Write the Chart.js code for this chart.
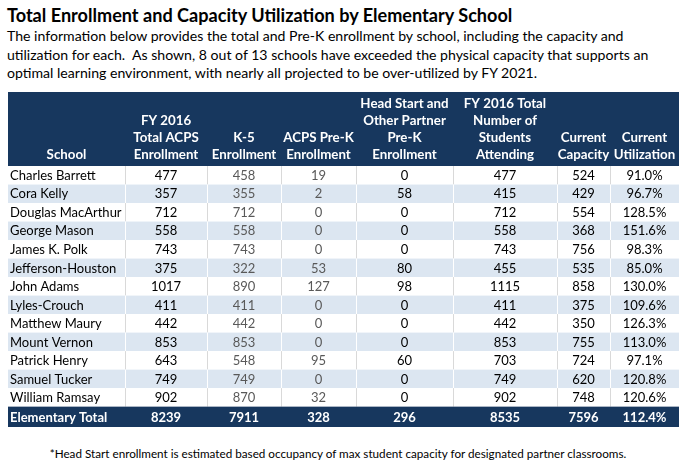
<!DOCTYPE html>
<html>
<head>
<meta charset="utf-8">
<script src="https://cdn.jsdelivr.net/npm/chart.js@4.4.1/dist/chart.umd.min.js"></script>
<style>
  html, body { margin: 0; padding: 0; background: #fff; }
  body { width: 688px; height: 464px; position: relative; overflow: hidden; font-family: Lato, "Open Sans", sans-serif; color: #000; }
  #title { position: absolute; left: 7px; top: 4px; font-size: 18.1px; font-weight: bold; line-height: 22px; white-space: nowrap; }
  #intro { position: absolute; left: 7px; top: 27px; font-size: 14.1px; line-height: 18.5px; white-space: nowrap; }
  #table { position: absolute; left: 8px; top: 92px; width: 671px; height: 335px; }
  #note { position: absolute; left: 0; width: 676px; top: 445px; text-align: center; font-size: 11.7px; line-height: 16px; white-space: nowrap; }
</style>
</head>
<body>
<div id="title">Total Enrollment and Capacity Utilization by Elementary School</div>
<div id="intro">The information below provides the total and Pre-K enrollment by school, including the capacity and<br>utilization for each.&nbsp; As shown, 8 out of 13 schools have exceeded the physical capacity that supports an<br>optimal learning environment, with nearly all projected to be over-utilized by FY 2021.</div>
<div id="table"><canvas id="tableChart"></canvas></div>
<div id="note">*Head Start enrollment is estimated based occupancy of max student capacity for designated partner classrooms.</div>

<script>
// table data
const schools = ["Charles Barrett", "Cora Kelly", "Douglas MacArthur", "George Mason", "James K. Polk",
  "Jefferson-Houston", "John Adams", "Lyles-Crouch", "Matthew Maury", "Mount Vernon",
  "Patrick Henry", "Samuel Tucker", "William Ramsay"];
const fyTotal = [477, 357, 712, 558, 743, 375, 1017, 411, 442, 853, 643, 749, 902];
const k5 = [458, 355, 712, 558, 743, 322, 890, 411, 442, 853, 548, 749, 870];
const acpsPreK = [19, 2, 0, 0, 0, 53, 127, 0, 0, 0, 95, 0, 32];
const headStart = [0, 58, 0, 0, 0, 80, 98, 0, 0, 0, 60, 0, 0];
const studentsTotal = [477, 415, 712, 558, 743, 455, 1115, 411, 442, 853, 703, 749, 902];
const capacity = [524, 429, 554, 368, 756, 535, 858, 375, 350, 755, 724, 620, 748];
const utilization = [91.0, 96.7, 128.5, 151.6, 98.3, 85.0, 130.0, 109.6, 126.3, 113.0, 97.1, 120.8, 120.6];

const totalLabel = "Elementary Total";
const totals = [8239, 7911, 328, 296, 8535, 7596, 112.4];

const headers = [
  ["School"],
  ["FY 2016", "Total ACPS", "Enrollment"],
  ["K-5", "Enrollment"],
  ["ACPS Pre-K", "Enrollment"],
  ["Head Start and", "Other Partner", "Pre-K", "Enrollment"],
  ["FY 2016 Total", "Number of", "Students", "Attending"],
  ["Current", "Capacity"],
  ["Current", "Utilization"]
];

// layout / style
const colWidths = [117, 82, 74, 75, 97, 104, 53, 69];
const colEdges = colWidths.reduce((acc, w) => acc.concat(acc[acc.length - 1] + w), [0]);
const tableWidth = colEdges[colEdges.length - 1];
const NAVY = "#17375E";
const STRIPE = "#DCE6F1";
const GRAY_TEXT = "#595959";
const TOTAL_ROW = schools.length;      // row index of the total line
const TOTAL_HEIGHT = 1.1;

const pct = v => v.toFixed(1) + "%";
const columns = [
  { values: schools, fmt: v => v, align: "left", color: "#000" },
  { values: fyTotal, fmt: String, color: "#000" },
  { values: k5, fmt: String, color: GRAY_TEXT },
  { values: acpsPreK, fmt: String, color: GRAY_TEXT },
  { values: headStart, fmt: String, color: "#000" },
  { values: studentsTotal, fmt: String, color: "#000" },
  { values: capacity, fmt: String, color: "#000" },
  { values: utilization, fmt: pct, color: "#000" }
];
const totalCells = [totalLabel].concat(totals.map((v, i) => i === totals.length - 1 ? pct(v) : String(v)));

const datasets = columns.map((col, c) => {
  const x = col.align === "left" ? colEdges[c] + 2 : (colEdges[c] + colEdges[c + 1]) / 2;
  const data = col.values.map((v, i) => ({ x: x, y: i + 0.5, text: col.fmt(v), color: col.color, bold: false }));
  data.push({ x: x, y: TOTAL_ROW + TOTAL_HEIGHT / 2, text: totalCells[c], color: "#fff", bold: true });
  return { label: "col" + c, data: data, align: col.align || "center", pointRadius: 0 };
});

const tablePlugin = {
  id: "tableCells",
  beforeDatasetsDraw(chart) {
    const { ctx, scales: { x, y } } = chart;
    const left = x.getPixelForValue(0), right = x.getPixelForValue(tableWidth);
    ctx.save();
    // header block
    ctx.fillStyle = NAVY;
    ctx.fillRect(left, y.getPixelForValue(-4), right - left, y.getPixelForValue(0) - y.getPixelForValue(-4));
    // body rows
    schools.forEach((s, i) => {
      const top = y.getPixelForValue(i), bottom = y.getPixelForValue(i + 1);
      ctx.fillStyle = i % 2 ? STRIPE : "#fff";
      ctx.fillRect(left, top, right - left, bottom - top);
      ctx.strokeStyle = i % 2 ? "#fff" : "#D9D9D9";
      ctx.lineWidth = 1;
      for (let c = 1; c < colEdges.length - 1; c++) {
        const px = Math.round(x.getPixelForValue(colEdges[c])) + 0.5;
        ctx.beginPath();
        ctx.moveTo(px, top);
        ctx.lineTo(px, bottom);
        ctx.stroke();
      }
    });
    // total row
    const tTop = y.getPixelForValue(TOTAL_ROW), tBottom = y.getPixelForValue(TOTAL_ROW + TOTAL_HEIGHT);
    ctx.fillStyle = NAVY;
    ctx.fillRect(left, tTop, right - left, tBottom - tTop);
    ctx.restore();
  },
  afterDatasetsDraw(chart) {
    const { ctx, scales: { x, y } } = chart;
    ctx.save();
    ctx.textBaseline = "middle";
    // header labels, bottom aligned
    ctx.fillStyle = "#fff";
    ctx.font = "bold 13.3px Lato";
    ctx.textAlign = "center";
    const lastLine = y.getPixelForValue(-0.6);
    headers.forEach((lines, c) => {
      const cx = x.getPixelForValue((colEdges[c] + colEdges[c + 1]) / 2);
      lines.forEach((t, k) => {
        ctx.fillText(t, cx, lastLine - (lines.length - 1 - k) * 17.2);
      });
    });
    // cell texts at the points placed by the scales
    chart.data.datasets.forEach((ds, di) => {
      const meta = chart.getDatasetMeta(di);
      ctx.textAlign = ds.align;
      meta.data.forEach((pt, i) => {
        const d = ds.data[i];
        ctx.fillStyle = d.color;
        ctx.font = (d.bold ? "bold " : "") + "13px Lato";
        ctx.fillText(d.text, pt.x, pt.y + 0.5);
      });
    });
    ctx.restore();
  }
};

new Chart(document.getElementById("tableChart"), {
  type: "scatter",
  data: { datasets: datasets },
  options: {
    responsive: true,
    maintainAspectRatio: false,
    animation: false,
    devicePixelRatio: 1,
    layout: { padding: 0 },
    plugins: { legend: { display: false }, tooltip: { enabled: false } },
    scales: {
      x: { type: "linear", min: 0, max: tableWidth, display: false },
      y: { type: "linear", min: -4, max: TOTAL_ROW + TOTAL_HEIGHT, reverse: true, display: false }
    }
  },
  plugins: [tablePlugin]
});
</script>
</body>
</html>
